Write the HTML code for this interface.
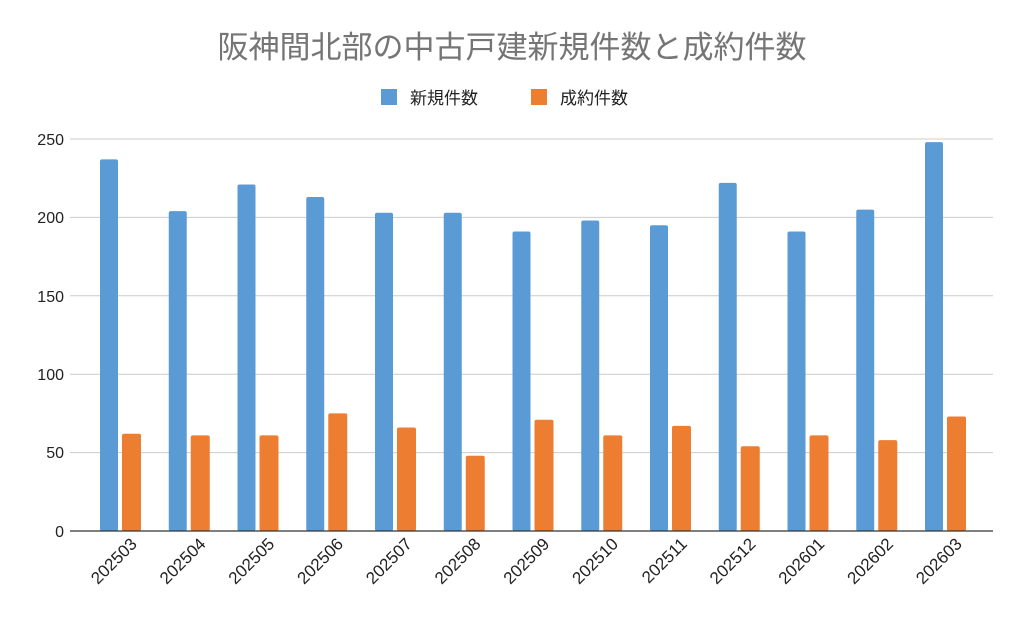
<!DOCTYPE html>
<html><head><meta charset="utf-8"><style>
body{margin:0;background:#fff;}
svg text{font-family:"Liberation Sans","Noto Sans CJK JP",sans-serif;}
</style></head><body>
<svg width="1024" height="626" xmlns="http://www.w3.org/2000/svg">
<rect width="1024" height="626" fill="#fff"/>
<text x="512" y="58" text-anchor="middle" font-size="31" fill="#757575">阪神間北部の中古戸建新規件数と成約件数</text>
<rect x="381" y="89" width="16" height="16" fill="#5b9bd5"/>
<text x="410" y="104" font-size="17" fill="#222">新規件数</text>
<rect x="531" y="89" width="16" height="16" fill="#ed7d31"/>
<text x="560" y="104" font-size="17" fill="#222">成約件数</text>
<g stroke="#cccccc" stroke-width="1">
<line x1="70" y1="139" x2="993" y2="139"/>
<line x1="70" y1="217.4" x2="993" y2="217.4"/>
<line x1="70" y1="295.8" x2="993" y2="295.8"/>
<line x1="70" y1="374.2" x2="993" y2="374.2"/>
<line x1="70" y1="452.6" x2="993" y2="452.6"/>
</g>
<g font-size="16" fill="#222" text-anchor="end">
<text x="64" y="145">250</text><text x="64" y="223">200</text><text x="64" y="302">150</text>
<text x="64" y="380">100</text><text x="64" y="458">50</text><text x="64" y="537">0</text>
</g>
<g fill="#5b9bd5">
<rect x="100" y="159.4" width="18" height="371.6" rx="2"/>
<rect x="168.75" y="211.1" width="18" height="319.9" rx="2"/>
<rect x="237.5" y="184.5" width="18" height="346.5" rx="2"/>
<rect x="306.25" y="197" width="18" height="334" rx="2"/>
<rect x="375" y="212.7" width="18" height="318.3" rx="2"/>
<rect x="443.75" y="212.7" width="18" height="318.3" rx="2"/>
<rect x="512.5" y="231.5" width="18" height="299.5" rx="2"/>
<rect x="581.25" y="220.5" width="18" height="310.5" rx="2"/>
<rect x="650" y="225.2" width="18" height="305.8" rx="2"/>
<rect x="718.75" y="182.9" width="18" height="348.1" rx="2"/>
<rect x="787.5" y="231.5" width="18" height="299.5" rx="2"/>
<rect x="856.25" y="209.6" width="18" height="321.4" rx="2"/>
<rect x="925" y="142.1" width="18" height="388.9" rx="2"/>
</g>
<g fill="#ed7d31">
<rect x="122" y="433.8" width="19" height="97.2" rx="2"/>
<rect x="190.75" y="435.4" width="19" height="95.6" rx="2"/>
<rect x="259.5" y="435.4" width="19" height="95.6" rx="2"/>
<rect x="328.25" y="413.4" width="19" height="117.6" rx="2"/>
<rect x="397" y="427.5" width="19" height="103.5" rx="2"/>
<rect x="465.75" y="455.7" width="19" height="75.3" rx="2"/>
<rect x="534.5" y="419.7" width="19" height="111.3" rx="2"/>
<rect x="603.25" y="435.4" width="19" height="95.6" rx="2"/>
<rect x="672" y="425.9" width="19" height="105.1" rx="2"/>
<rect x="740.75" y="446.3" width="19" height="84.7" rx="2"/>
<rect x="809.5" y="435.4" width="19" height="95.6" rx="2"/>
<rect x="878.25" y="440.1" width="19" height="90.9" rx="2"/>
<rect x="947" y="416.5" width="19" height="114.5" rx="2"/>
</g>
<line x1="70" y1="531" x2="993" y2="531" stroke="#333" stroke-width="1.2"/>
<g font-size="17" fill="#222" text-anchor="end">
<text transform="translate(138,545) rotate(-45)">202503</text>
<text transform="translate(206.75,545) rotate(-45)">202504</text>
<text transform="translate(275.5,545) rotate(-45)">202505</text>
<text transform="translate(344.25,545) rotate(-45)">202506</text>
<text transform="translate(413,545) rotate(-45)">202507</text>
<text transform="translate(481.75,545) rotate(-45)">202508</text>
<text transform="translate(550.5,545) rotate(-45)">202509</text>
<text transform="translate(619.25,545) rotate(-45)">202510</text>
<text transform="translate(688,545) rotate(-45)">202511</text>
<text transform="translate(756.75,545) rotate(-45)">202512</text>
<text transform="translate(825.5,545) rotate(-45)">202601</text>
<text transform="translate(894.25,545) rotate(-45)">202602</text>
<text transform="translate(963,545) rotate(-45)">202603</text>
</g>
</svg>
</body></html>
